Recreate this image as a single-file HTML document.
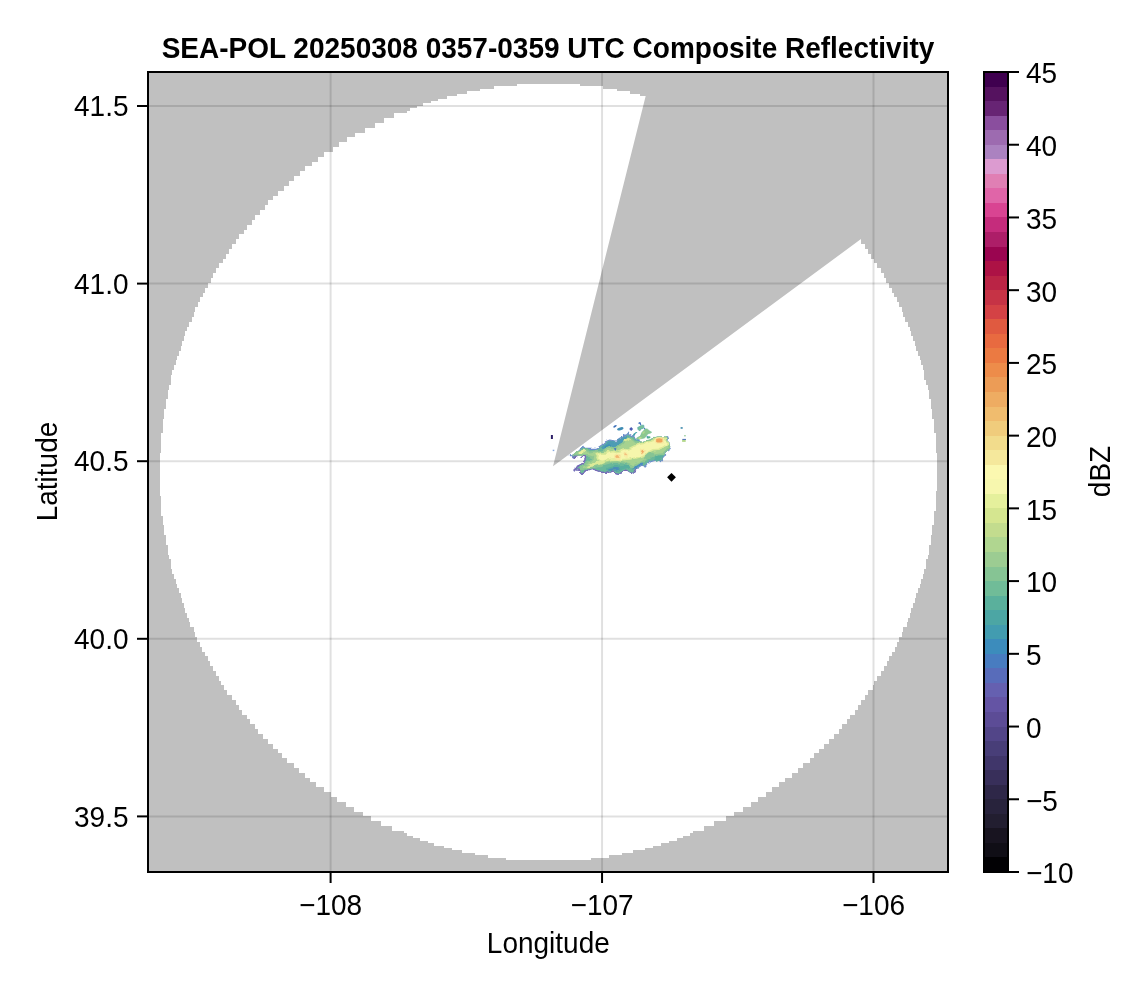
<!DOCTYPE html>
<html><head><meta charset="utf-8"><title>SEA-POL Composite Reflectivity</title>
<style>
html,body{margin:0;padding:0;background:#fff;}
body{width:1146px;height:990px;overflow:hidden;}
svg{display:block;font-family:"Liberation Sans",Arial,Helvetica,sans-serif;font-size:28px;fill:#000;}
</style></head><body>
<svg width="1146" height="990" viewBox="0 0 1146 990">
<defs>
<clipPath id="ax"><rect x="148" y="72" width="800" height="800"/></clipPath>
<filter id="bl" x="-10%" y="-10%" width="120%" height="120%" color-interpolation-filters="sRGB"><feTurbulence type="fractalNoise" baseFrequency="0.17" numOctaves="1" seed="3" result="n"/><feDisplacementMap in="SourceGraphic" in2="n" scale="6" xChannelSelector="R" yChannelSelector="G" result="d"/><feGaussianBlur in="d" stdDeviation="0.55"/></filter>
<filter id="bl2" x="-20%" y="-20%" width="140%" height="140%" color-interpolation-filters="sRGB"><feGaussianBlur stdDeviation="0.5"/></filter>
</defs>
<rect x="0" y="0" width="1146" height="990" fill="#fff"/>
<g clip-path="url(#ax)">
<rect x="148" y="72" width="800" height="800" fill="#c0c0c0"/>
<path fill="#fff" shape-rendering="crispEdges" d="M516.9 84.00H579.9V86.47H516.9ZM494.2 86.42H602.6V88.90H494.2ZM479.7 88.85H617.1V91.32H479.7ZM466.7 91.28H630.0V93.75H466.7ZM457.0 93.70H639.7V96.17H457.0ZM447.3 96.12H649.5V98.60H447.3ZM437.6 98.55H657.5V101.02H437.6ZM431.2 100.97H665.6V103.45H431.2ZM423.1 103.40H673.7V105.88H423.1ZM416.6 105.83H680.2V108.30H416.6ZM410.1 108.25H686.6V110.72H410.1ZM406.9 110.67H689.9V113.15H406.9ZM394.0 113.10H701.2V115.57H394.0ZM394.0 115.53H701.2V118.00H394.0ZM384.3 117.95H712.5V120.42H384.3ZM384.3 120.38H712.5V122.85H384.3ZM374.6 122.80H722.2V125.27H374.6ZM374.6 125.22H722.2V127.70H374.6ZM364.9 127.65H731.9V130.13H364.9ZM364.9 130.07H731.9V132.55H364.9ZM355.2 132.50H740.0V134.98H355.2ZM355.2 134.93H740.0V137.40H355.2ZM347.1 137.35H749.7V139.83H347.1ZM347.1 139.78H749.7V142.25H347.1ZM339.0 142.20H756.2V144.68H339.0ZM339.0 144.62H756.2V147.10H339.0ZM332.5 147.05H764.3V149.53H332.5ZM332.5 149.47H764.3V151.95H332.5ZM324.4 151.90H770.7V154.38H324.4ZM324.4 154.32H770.7V156.80H324.4ZM318.0 156.75H778.8V159.23H318.0ZM318.0 159.18H778.8V161.65H318.0ZM311.5 161.60H785.3V164.08H311.5ZM311.5 164.02H785.3V166.50H311.5ZM305.0 166.45H790.1V168.93H305.0ZM305.0 168.88H790.1V171.35H305.0ZM300.2 171.30H796.6V173.78H300.2ZM300.2 173.72H796.6V176.20H300.2ZM293.7 176.15H803.1V178.62H293.7ZM293.7 178.57H803.1V181.05H293.7ZM288.9 181.00H807.9V183.48H288.9ZM288.9 183.43H807.9V185.90H288.9ZM284.0 185.85H812.8V188.33H284.0ZM284.0 188.27H812.8V190.75H284.0ZM277.5 190.70H817.6V193.18H277.5ZM277.5 193.12H817.6V195.60H277.5ZM272.7 195.55H824.1V198.03H272.7ZM272.7 197.97H824.1V200.45H272.7ZM267.8 200.40H827.3V202.88H267.8ZM267.8 202.82H827.3V205.30H267.8ZM264.6 205.25H832.2V207.73H264.6ZM264.6 207.68H832.2V210.15H264.6ZM259.8 210.10H837.0V212.58H259.8ZM259.8 212.52H837.0V215.00H259.8ZM254.9 214.95H841.9V217.43H254.9ZM254.9 217.38H841.9V219.85H254.9ZM251.7 219.80H845.1V222.28H251.7ZM251.7 222.22H845.1V224.70H251.7ZM246.8 224.65H850.0V227.12H246.8ZM246.8 227.07H850.0V229.55H246.8ZM243.6 229.50H853.2V231.98H243.6ZM243.6 231.92H853.2V234.40H243.6ZM238.7 234.35H858.0V236.83H238.7ZM238.7 236.77H858.0V239.25H238.7ZM235.5 239.20H861.3V241.68H235.5ZM235.5 241.62H861.3V244.10H235.5ZM232.3 244.05H864.5V246.53H232.3ZM232.3 246.47H864.5V248.95H232.3ZM229.0 248.90H867.7V251.38H229.0ZM229.0 251.32H867.7V253.80H229.0ZM225.8 253.75H871.0V256.23H225.8ZM225.8 256.17H871.0V258.65H225.8ZM222.6 258.60H874.2V261.08H222.6ZM222.6 261.02H874.2V263.50H222.6ZM219.3 263.45H877.4V265.93H219.3ZM219.3 265.88H877.4V268.35H219.3ZM216.1 268.30H880.7V270.77H216.1ZM216.1 270.73H880.7V273.20H216.1ZM212.9 273.15H883.9V275.62H212.9ZM212.9 275.57H883.9V278.05H212.9ZM211.2 278.00H885.5V280.48H211.2ZM211.2 280.42H885.5V282.90H211.2ZM208.0 282.85H888.8V285.33H208.0ZM208.0 285.27H888.8V287.75H208.0ZM204.8 287.70H892.0V290.18H204.8ZM204.8 290.12H892.0V292.60H204.8ZM203.2 292.55H893.6V295.02H203.2ZM203.2 294.98H893.6V297.45H203.2ZM199.9 297.40H896.9V299.88H199.9ZM199.9 299.82H896.9V302.30H199.9ZM198.3 302.25H898.5V304.73H198.3ZM198.3 304.67H898.5V307.15H198.3ZM195.1 307.10H901.7V309.58H195.1ZM195.1 309.52H901.7V312.00H195.1ZM193.5 311.95H903.3V314.43H193.5ZM193.5 314.38H903.3V316.85H193.5ZM191.8 316.80H904.9V319.27H191.8ZM191.8 319.23H904.9V321.70H191.8ZM188.6 321.65H908.2V324.12H188.6ZM188.6 324.07H908.2V326.55H188.6ZM187.0 326.50H909.8V328.98H187.0ZM187.0 328.92H909.8V331.40H187.0ZM185.4 331.35H911.4V333.83H185.4ZM185.4 333.77H911.4V336.25H185.4ZM183.8 336.20H913.0V338.68H183.8ZM183.8 338.62H913.0V341.10H183.8ZM182.1 341.05H914.6V343.52H182.1ZM182.1 343.47H914.6V345.95H182.1ZM180.5 345.90H916.3V348.38H180.5ZM180.5 348.32H916.3V350.80H180.5ZM178.9 350.75H917.9V353.23H178.9ZM178.9 353.17H917.9V355.65H178.9ZM177.3 355.60H919.5V358.07H177.3ZM177.3 358.02H919.5V360.50H177.3ZM175.7 360.45H921.1V362.93H175.7ZM175.7 362.88H921.1V365.35H175.7ZM174.1 365.30H922.7V367.77H174.1ZM174.1 367.72H922.7V370.20H174.1ZM172.4 370.15H924.3V372.62H172.4ZM172.4 372.57H924.3V375.05H172.4ZM170.8 375.00H924.3V377.48H170.8ZM170.8 377.42H924.3V379.90H170.8ZM170.8 379.85H926.0V382.32H170.8ZM170.8 382.27H926.0V384.75H170.8ZM169.2 384.70H927.6V387.18H169.2ZM169.2 387.12H927.6V389.60H169.2ZM167.6 389.55H929.2V392.02H167.6ZM167.6 391.97H929.2V394.45H167.6ZM167.6 394.40H929.2V396.88H167.6ZM167.6 396.82H929.2V399.30H167.6ZM166.0 399.25H930.8V401.73H166.0ZM166.0 401.67H930.8V404.15H166.0ZM166.0 404.10H930.8V406.57H166.0ZM166.0 406.52H930.8V409.00H166.0ZM164.4 408.95H932.4V411.43H164.4ZM164.4 411.38H932.4V413.85H164.4ZM164.4 413.80H932.4V416.27H164.4ZM164.4 416.22H932.4V418.70H164.4ZM162.7 418.65H934.0V421.12H162.7ZM162.7 421.07H934.0V423.55H162.7ZM162.7 423.50H934.0V425.98H162.7ZM162.7 425.92H934.0V428.40H162.7ZM162.7 428.35H934.0V430.82H162.7ZM162.7 430.77H934.0V433.25H162.7ZM161.1 433.20H935.7V435.68H161.1ZM161.1 435.62H935.7V438.10H161.1ZM161.1 438.05H935.7V440.52H161.1ZM161.1 440.47H935.7V442.95H161.1ZM161.1 442.90H935.7V445.38H161.1ZM161.1 445.32H935.7V447.80H161.1ZM161.1 447.75H935.7V450.23H161.1ZM161.1 450.17H935.7V452.65H161.1ZM159.5 452.60H937.3V455.07H159.5ZM159.5 455.02H937.3V457.50H159.5ZM159.5 457.45H937.3V459.93H159.5ZM159.5 459.88H937.3V462.35H159.5ZM159.5 462.30H937.3V464.77H159.5ZM159.5 464.72H937.3V467.20H159.5ZM159.5 467.15H937.3V469.62H159.5ZM159.5 469.57H937.3V472.05H159.5ZM159.5 472.00H937.3V474.48H159.5ZM159.5 474.42H937.3V476.90H159.5ZM159.5 476.85H937.3V479.32H159.5ZM159.5 479.27H937.3V481.75H159.5ZM159.5 481.70H937.3V484.18H159.5ZM159.5 484.12H937.3V486.60H159.5ZM159.5 486.55H937.3V489.02H159.5ZM159.5 488.97H937.3V491.45H159.5ZM159.5 491.40H935.7V493.88H159.5ZM159.5 493.82H935.7V496.30H159.5ZM161.1 496.25H935.7V498.72H161.1ZM161.1 498.67H935.7V501.15H161.1ZM161.1 501.10H935.7V503.57H161.1ZM161.1 503.52H935.7V506.00H161.1ZM161.1 505.95H935.7V508.43H161.1ZM161.1 508.37H935.7V510.85H161.1ZM161.1 510.80H934.0V513.27H161.1ZM161.1 513.22H934.0V515.70H161.1ZM162.7 515.65H934.0V518.12H162.7ZM162.7 518.08H934.0V520.55H162.7ZM162.7 520.50H934.0V522.97H162.7ZM162.7 522.92H934.0V525.40H162.7ZM164.4 525.35H932.4V527.82H164.4ZM164.4 527.77H932.4V530.25H164.4ZM164.4 530.20H932.4V532.67H164.4ZM164.4 532.62H932.4V535.10H164.4ZM166.0 535.05H930.8V537.52H166.0ZM166.0 537.47H930.8V539.95H166.0ZM166.0 539.90H930.8V542.37H166.0ZM166.0 542.33H930.8V544.80H166.0ZM167.6 544.75H929.2V547.22H167.6ZM167.6 547.17H929.2V549.65H167.6ZM167.6 549.60H929.2V552.07H167.6ZM167.6 552.02H929.2V554.50H167.6ZM169.2 554.45H927.6V556.92H169.2ZM169.2 556.88H927.6V559.35H169.2ZM170.8 559.30H926.0V561.77H170.8ZM170.8 561.72H926.0V564.20H170.8ZM170.8 564.15H926.0V566.62H170.8ZM170.8 566.58H926.0V569.05H170.8ZM172.4 569.00H924.3V571.47H172.4ZM172.4 571.42H924.3V573.90H172.4ZM174.1 573.85H922.7V576.32H174.1ZM174.1 576.27H922.7V578.75H174.1ZM175.7 578.70H921.1V581.17H175.7ZM175.7 581.12H921.1V583.60H175.7ZM177.3 583.55H919.5V586.02H177.3ZM177.3 585.97H919.5V588.45H177.3ZM178.9 588.40H917.9V590.87H178.9ZM178.9 590.83H917.9V593.30H178.9ZM180.5 593.25H916.3V595.72H180.5ZM180.5 595.67H916.3V598.15H180.5ZM182.1 598.10H914.6V600.57H182.1ZM182.1 600.52H914.6V603.00H182.1ZM183.8 602.95H913.0V605.42H183.8ZM183.8 605.38H913.0V607.85H183.8ZM185.4 607.80H911.4V610.27H185.4ZM185.4 610.22H911.4V612.70H185.4ZM187.0 612.65H909.8V615.12H187.0ZM187.0 615.07H909.8V617.55H187.0ZM188.6 617.50H908.2V619.97H188.6ZM188.6 619.92H908.2V622.40H188.6ZM190.2 622.35H906.6V624.82H190.2ZM190.2 624.77H906.6V627.25H190.2ZM193.5 627.20H903.3V629.67H193.5ZM193.5 629.62H903.3V632.10H193.5ZM195.1 632.05H901.7V634.52H195.1ZM195.1 634.47H901.7V636.95H195.1ZM196.7 636.90H898.5V639.37H196.7ZM196.7 639.32H898.5V641.80H196.7ZM199.9 641.75H896.9V644.22H199.9ZM199.9 644.17H896.9V646.65H199.9ZM201.5 646.60H895.2V649.07H201.5ZM201.5 649.02H895.2V651.50H201.5ZM204.8 651.45H892.0V653.92H204.8ZM204.8 653.88H892.0V656.35H204.8ZM208.0 656.30H888.8V658.77H208.0ZM208.0 658.72H888.8V661.20H208.0ZM209.6 661.15H887.1V663.62H209.6ZM209.6 663.57H887.1V666.05H209.6ZM212.9 666.00H883.9V668.47H212.9ZM212.9 668.42H883.9V670.90H212.9ZM216.1 670.85H880.7V673.32H216.1ZM216.1 673.27H880.7V675.75H216.1ZM219.3 675.70H877.4V678.17H219.3ZM219.3 678.12H877.4V680.60H219.3ZM220.9 680.55H874.2V683.02H220.9ZM220.9 682.97H874.2V685.45H220.9ZM224.2 685.40H872.6V687.87H224.2ZM224.2 687.82H872.6V690.30H224.2ZM227.4 690.25H867.7V692.72H227.4ZM227.4 692.67H867.7V695.15H227.4ZM232.3 695.10H864.5V697.57H232.3ZM232.3 697.52H864.5V700.00H232.3ZM235.5 699.95H861.3V702.42H235.5ZM235.5 702.38H861.3V704.85H235.5ZM238.7 704.80H858.0V707.27H238.7ZM238.7 707.22H858.0V709.70H238.7ZM242.0 709.65H854.8V712.12H242.0ZM242.0 712.07H854.8V714.55H242.0ZM246.8 714.50H850.0V716.97H246.8ZM246.8 716.92H850.0V719.40H246.8ZM250.1 719.35H846.7V721.82H250.1ZM250.1 721.77H846.7V724.25H250.1ZM254.9 724.20H841.9V726.67H254.9ZM254.9 726.62H841.9V729.10H254.9ZM258.1 729.05H838.6V731.52H258.1ZM258.1 731.47H838.6V733.95H258.1ZM263.0 733.90H833.8V736.37H263.0ZM263.0 736.32H833.8V738.80H263.0ZM267.8 738.75H828.9V741.22H267.8ZM267.8 741.17H828.9V743.65H267.8ZM272.7 743.60H824.1V746.07H272.7ZM272.7 746.02H824.1V748.50H272.7ZM277.5 748.45H819.2V750.92H277.5ZM277.5 750.88H819.2V753.35H277.5ZM282.4 753.30H814.4V755.77H282.4ZM282.4 755.72H814.4V758.20H282.4ZM287.2 758.15H809.5V760.62H287.2ZM287.2 760.57H809.5V763.05H287.2ZM293.7 763.00H803.1V765.47H293.7ZM293.7 765.42H803.1V767.90H293.7ZM298.6 767.85H798.2V770.32H298.6ZM298.6 770.27H798.2V772.75H298.6ZM305.0 772.70H791.7V775.17H305.0ZM305.0 775.12H791.7V777.60H305.0ZM309.9 777.55H785.3V780.02H309.9ZM309.9 779.97H785.3V782.45H309.9ZM316.3 782.40H778.8V784.87H316.3ZM316.3 784.82H778.8V787.30H316.3ZM324.4 787.25H772.3V789.72H324.4ZM324.4 789.67H772.3V792.15H324.4ZM330.9 792.10H765.9V794.57H330.9ZM330.9 794.52H765.9V797.00H330.9ZM337.4 796.95H757.8V799.42H337.4ZM337.4 799.38H757.8V801.85H337.4ZM345.5 801.80H751.3V804.27H345.5ZM345.5 804.22H751.3V806.70H345.5ZM353.5 806.65H743.2V809.12H353.5ZM353.5 809.07H743.2V811.55H353.5ZM363.2 811.50H733.5V813.97H363.2ZM363.2 813.92H733.5V816.40H363.2ZM371.3 816.35H725.5V818.82H371.3ZM371.3 818.77H725.5V821.25H371.3ZM381.0 821.20H714.1V823.67H381.0ZM381.0 823.62H714.1V826.10H381.0ZM392.3 826.05H704.4V828.52H392.3ZM392.3 828.47H704.4V830.95H392.3ZM403.7 830.90H693.1V833.37H403.7ZM406.9 833.32H689.9V835.80H406.9ZM413.4 835.75H683.4V838.22H413.4ZM419.8 838.17H676.9V840.65H419.8ZM427.9 840.60H668.9V843.07H427.9ZM434.4 843.02H660.8V845.50H434.4ZM444.1 845.45H652.7V847.92H444.1ZM452.2 847.88H644.6V850.35H452.2ZM461.9 850.30H633.3V852.77H461.9ZM474.8 852.72H622.0V855.20H474.8ZM487.8 855.15H609.0V857.62H487.8ZM505.5 857.57H591.2V860.05H505.5Z"/>
<polygon fill="#c0c0c0" points="553.0,466.2 659.8,39.6 800,40 960,40 960,150 904.4,207.0"/>
<g stroke="#000" stroke-opacity="0.12" stroke-width="2" fill="none">
<line x1="330.60" y1="72" x2="330.60" y2="872"/>
<line x1="602.05" y1="72" x2="602.05" y2="872"/>
<line x1="873.50" y1="72" x2="873.50" y2="872"/>
<line x1="148" y1="106.00" x2="948" y2="106.00"/>
<line x1="148" y1="283.60" x2="948" y2="283.60"/>
<line x1="148" y1="461.20" x2="948" y2="461.20"/>
<line x1="148" y1="638.80" x2="948" y2="638.80"/>
<line x1="148" y1="816.40" x2="948" y2="816.40"/>
</g>
<g id="blob" filter="url(#bl)">
<polygon points="570.2,455.0 574.1,452.6 577.9,450.5 581.8,448.4 582.8,446.3 585.2,448.4 590.1,448.4 595.7,448.4 598.5,447.3 602.0,444.9 605.5,441.8 609.7,440.0 613.9,440.7 616.7,441.1 620.1,439.0 621.3,438.5 623.5,436.3 623.7,433.7 625.1,434.4 627.2,432.2 629.2,435.0 631.8,436.8 632.7,435.5 634.4,437.2 635.7,438.5 637.1,439.8 639.7,441.1 641.4,442.9 643.6,441.6 647.1,440.7 650.6,439.8 655.4,438.3 657.9,438.4 661.4,438.4 666.3,438.4 667.7,436.6 668.4,438.7 667.7,442.2 668.4,445.7 671.2,448.5 668.4,450.6 664.9,453.0 664.6,455.1 662.1,456.9 661.8,460.7 660.0,460.7 657.9,459.0 653.7,460.4 649.5,461.8 646.1,464.6 645.4,467.0 642.6,466.3 638.4,469.1 636.9,469.0 633.4,471.4 629.9,473.5 626.4,471.4 623.6,471.1 620.8,473.2 617.4,473.2 613.9,472.1 611.1,473.2 608.3,471.8 606.2,473.5 603.4,471.4 599.2,471.1 595.0,469.7 591.5,468.6 588.0,469.7 584.2,472.5 581.8,473.5 579.0,470.4 575.1,469.7 575.5,467.2 579.7,465.1 583.8,462.7 586.3,459.9 585.2,457.8 581.1,457.1 579.0,455.7 574.8,457.8 572.0,456.8" fill="#6ab89a" stroke="#6c8ccc" stroke-width="1.1" stroke-linejoin="round"/>
<polyline points="636.9,469.0 633.4,471.4 629.9,473.5 626.4,471.4 623.6,471.1 620.8,473.2 617.4,473.2 613.9,472.1 611.1,473.2 608.3,471.8 606.2,473.5 603.4,471.4 599.2,471.1 595.0,469.7 591.5,468.6 588.0,469.7 584.2,472.5 581.8,473.5 579.0,470.4 575.1,469.7 575.5,467.2 579.7,465.1 583.8,462.7 586.3,459.9 585.2,457.8 581.1,457.1 579.0,455.7 574.8,457.8 572.0,456.8" fill="none" stroke="#7a66b4" stroke-width="1.1" stroke-linejoin="round"/>
<polygon points="601.6,447.4 605.9,443.3 610.8,441.3 616.3,441.9 622.4,438.2 626.1,435.2 628.5,437.0 622.4,442.5 616.3,446.2 609.0,448.6 604.1,450.4" fill="#4c9cb4" stroke="#4c9cb4" stroke-width="0.8"/>
<polygon points="572.3,454.7 579.7,450.4 589.4,451.6 595.5,450.4 601.6,451.6 606.5,448.6 616.3,446.8 622.4,443.7 627.3,438.2 631.0,438.8 634.6,441.9 640.7,442.5 650.5,440.0 657.8,438.2 667.0,438.2 667.6,444.3 670.1,448.0 665.8,451.0 662.7,454.1 655.4,455.3 650.5,457.8 643.2,461.4 638.3,463.9 633.4,466.3 628.5,463.9 623.6,462.6 617.5,461.4 611.4,462.0 605.3,463.9 599.2,466.3 591.9,467.5 584.5,468.8 579.7,469.4 583.3,465.1 589.4,461.4 593.1,457.8 587.0,455.9 579.7,455.9" fill="#a6d290" stroke="#8cc693" stroke-width="2.0" stroke-linejoin="round"/>
<ellipse cx="618.8" cy="467.8" rx="12.83" ry="2.44" fill="#58ae9e" transform="rotate(-8 618.8 467.8)"/>
<ellipse cx="613.9" cy="469.4" rx="6.11" ry="1.22" fill="#4a8cba" transform="rotate(-5 613.9 469.4)"/>
<ellipse cx="638.3" cy="465.7" rx="5.50" ry="1.47" fill="#4a8cc0" transform="rotate(-30 638.3 465.7)"/>
<ellipse cx="657.8" cy="458.0" rx="4.89" ry="1.59" fill="#58b09c" transform="rotate(-25 657.8 458.0)"/>
<ellipse cx="649.3" cy="455.9" rx="5.50" ry="2.69" fill="#86c494" transform="rotate(-20 649.3 455.9)"/>
<ellipse cx="605.3" cy="454.7" rx="4.28" ry="1.47" fill="#80c296" transform="rotate(-20 605.3 454.7)"/>
<ellipse cx="607.8" cy="446.2" rx="3.66" ry="1.22" fill="#3e90b8" transform="rotate(-25 607.8 446.2)"/>
<polygon points="596.2,454.7 601.6,453.1 607.8,453.1 612.6,451.4 617.5,452.6 622.4,450.4 628.5,449.0 633.4,446.5 638.3,444.3 643.2,443.1 650.5,441.3 656.6,439.4 666.4,439.4 667.4,444.3 662.7,447.4 657.8,449.2 653.0,449.8 649.3,451.6 645.6,454.7 640.7,456.5 635.9,457.8 631.0,459.0 626.1,459.2 621.2,459.7 616.3,459.0 611.4,459.2 606.5,460.4 601.6,461.4 598.2,460.9 597.0,458.4 598.0,456.3" fill="#f5f6ac" stroke="#dcea98" stroke-width="1.6" stroke-linejoin="round"/>
<ellipse cx="582.1" cy="452.3" rx="4.28" ry="1.59" fill="#e6ee9e" transform="rotate(-25 582.1 452.3)"/>
<ellipse cx="595.5" cy="464.1" rx="9.77" ry="1.59" fill="#dcea98" transform="rotate(-15 595.5 464.1)"/>
<ellipse cx="626.7" cy="440.0" rx="3.42" ry="1.47" fill="#d8e894" transform="rotate(-20 626.7 440.0)"/>
<ellipse cx="659.3" cy="440.9" rx="4.64" ry="2.81" fill="#f7e8a0" transform="rotate(0 659.3 440.9)"/>
<ellipse cx="659.3" cy="440.9" rx="3.30" ry="1.71" fill="#f0a45c" transform="rotate(0 659.3 440.9)"/>
<ellipse cx="642.8" cy="451.3" rx="2.81" ry="2.44" fill="#f7e8a0" transform="rotate(0 642.8 451.3)"/>
<ellipse cx="642.8" cy="451.3" rx="1.47" ry="1.34" fill="#f0ac66" transform="rotate(0 642.8 451.3)"/>
<ellipse cx="625.7" cy="454.7" rx="2.69" ry="2.93" fill="#f7e8a0" transform="rotate(0 625.7 454.7)"/>
<ellipse cx="625.7" cy="454.7" rx="1.34" ry="1.83" fill="#f2c07c" transform="rotate(0 625.7 454.7)"/>
<ellipse cx="618.1" cy="456.5" rx="3.05" ry="2.69" fill="#f7e8a0" transform="rotate(0 618.1 456.5)"/>
<ellipse cx="618.1" cy="456.5" rx="1.71" ry="1.59" fill="#f2b670" transform="rotate(0 618.1 456.5)"/>
<ellipse cx="615.1" cy="449.2" rx="1.47" ry="1.22" fill="#4a78c0" transform="rotate(0 615.1 449.2)"/>
</g>
<g filter="url(#bl2)">
<ellipse cx="615.0" cy="426.3" rx="1.96" ry="0.96" fill="#3e70b8" transform="rotate(-32 615.0 426.3)"/>
<ellipse cx="620.3" cy="428.8" rx="3.27" ry="1.40" fill="#3e8cb4" transform="rotate(-15 620.3 428.8)"/>
<polygon points="629.2,428.9 631.2,426.9 633.1,428.9 631.2,430.9" fill="#4c5cb4"/>
<polygon points="637.9,423.2 639.5,422.1 640.8,422.6 641.2,425.0 640.3,425.4 639.7,423.9" fill="#4a74c0"/>
<polygon points="637.7,427.4 640.1,426.3 641.4,425.2 643.8,425.2 644.0,427.4 643.2,428.5 641.0,428.7 640.5,430.2 639.2,430.7 637.9,429.3" fill="#78c098" stroke="#48a0a8" stroke-width="0.6"/>
<polygon points="636.2,438.5 637.9,437.2 640.1,436.3 641.0,434.6 641.8,432.4 643.6,430.7 644.9,428.9 647.1,428.9 649.3,430.7 651.7,432.2 650.6,433.1 648.4,433.7 647.1,434.6 646.2,436.3 644.5,437.9 642.3,438.5 640.1,438.9 638.8,439.8 637.1,439.6" fill="#8cc890" stroke="#70bc98" stroke-width="0.6"/>
<ellipse cx="640.1" cy="438.1" rx="1.75" ry="0.79" fill="#c8e090" transform="rotate(-15 640.1 438.1)"/>
<ellipse cx="643.6" cy="432.6" rx="1.53" ry="0.96" fill="#b0d690" transform="rotate(-40 643.6 432.6)"/>
<ellipse cx="644.5" cy="428.5" rx="0.61" ry="0.79" fill="#4a78c0" transform="rotate(0 644.5 428.5)"/>
<ellipse cx="648.6" cy="437.4" rx="1.96" ry="1.13" fill="#50b090" transform="rotate(-10 648.6 437.4)"/>
<ellipse cx="647.2" cy="436.5" rx="0.61" ry="0.70" fill="#4a80c0" transform="rotate(0 647.2 436.5)"/>
<polygon points="632.9,435.7 633.3,433.9 636.0,432.0 637.5,432.2 635.5,433.8 634.7,435.7" fill="#3ea0a8"/>
<ellipse cx="637.9" cy="440.0" rx="1.09" ry="0.79" fill="#58a8c0" transform="rotate(0 637.9 440.0)"/>
<rect x="680.6" y="427.1" width="2.1" height="1.7" fill="#4890b0"/>
<rect x="684.2" y="435.1" width="1.5" height="1.3" fill="#8cc890"/>
<rect x="682.1" y="439.4" width="3.6" height="2.5" fill="#b4d88c"/>
<rect x="682.4" y="438.9" width="3.6" height="1" fill="#4a6cb8"/>
</g>
<rect x="550.9" y="435" width="2" height="4" fill="#2e2068"/>
<rect x="552.7" y="449.7" width="1.6" height="1.4" fill="#88a8e0"/>
<polygon points="667.1,477.3 671.5,472.9 675.9,477.3 671.5,481.7" fill="#000"/>
</g>
<rect x="148" y="72" width="800" height="800" fill="none" stroke="#000" stroke-width="2"/>
<g shape-rendering="crispEdges">
<rect x="984" y="72.00" width="24" height="15.05" fill="#3f004f"/>
<rect x="984" y="86.55" width="24" height="15.05" fill="#55125f"/>
<rect x="984" y="101.09" width="24" height="15.05" fill="#672474"/>
<rect x="984" y="115.64" width="24" height="15.05" fill="#8a4e9e"/>
<rect x="984" y="130.18" width="24" height="15.05" fill="#9d6bb0"/>
<rect x="984" y="144.73" width="24" height="15.05" fill="#ab82c0"/>
<rect x="984" y="159.27" width="24" height="15.05" fill="#dc9bd0"/>
<rect x="984" y="173.82" width="24" height="15.05" fill="#e07fb4"/>
<rect x="984" y="188.36" width="24" height="15.05" fill="#e065a8"/>
<rect x="984" y="202.91" width="24" height="15.05" fill="#d94492"/>
<rect x="984" y="217.45" width="24" height="15.05" fill="#c52c7c"/>
<rect x="984" y="232.00" width="24" height="15.05" fill="#ad1e68"/>
<rect x="984" y="246.55" width="24" height="15.05" fill="#9a0550"/>
<rect x="984" y="261.09" width="24" height="15.05" fill="#ad1245"/>
<rect x="984" y="275.64" width="24" height="15.05" fill="#ba2445"/>
<rect x="984" y="290.18" width="24" height="15.05" fill="#c63345"/>
<rect x="984" y="304.73" width="24" height="15.05" fill="#d44245"/>
<rect x="984" y="319.27" width="24" height="15.05" fill="#e05a40"/>
<rect x="984" y="333.82" width="24" height="15.05" fill="#e86a40"/>
<rect x="984" y="348.36" width="24" height="15.05" fill="#eb7a42"/>
<rect x="984" y="362.91" width="24" height="15.05" fill="#ed8c4a"/>
<rect x="984" y="377.45" width="24" height="15.05" fill="#ec9c56"/>
<rect x="984" y="392.00" width="24" height="15.05" fill="#eeac62"/>
<rect x="984" y="406.55" width="24" height="15.05" fill="#f0bc6e"/>
<rect x="984" y="421.09" width="24" height="15.05" fill="#f0cc7c"/>
<rect x="984" y="435.64" width="24" height="15.05" fill="#f2dc8c"/>
<rect x="984" y="450.18" width="24" height="15.05" fill="#f5e89c"/>
<rect x="984" y="464.73" width="24" height="15.05" fill="#fbf8b0"/>
<rect x="984" y="479.27" width="24" height="15.05" fill="#f7f7ae"/>
<rect x="984" y="493.82" width="24" height="15.05" fill="#e5f09c"/>
<rect x="984" y="508.36" width="24" height="15.05" fill="#d5e690"/>
<rect x="984" y="522.91" width="24" height="15.05" fill="#c3dc8e"/>
<rect x="984" y="537.45" width="24" height="15.05" fill="#b0d690"/>
<rect x="984" y="552.00" width="24" height="15.05" fill="#9ccc92"/>
<rect x="984" y="566.55" width="24" height="15.05" fill="#86c494"/>
<rect x="984" y="581.09" width="24" height="15.05" fill="#70bc98"/>
<rect x="984" y="595.64" width="24" height="15.05" fill="#5ab09c"/>
<rect x="984" y="610.18" width="24" height="15.05" fill="#4ca6a4"/>
<rect x="984" y="624.73" width="24" height="15.05" fill="#429cb0"/>
<rect x="984" y="639.27" width="24" height="15.05" fill="#3c8cbc"/>
<rect x="984" y="653.82" width="24" height="15.05" fill="#487cc0"/>
<rect x="984" y="668.36" width="24" height="15.05" fill="#586cba"/>
<rect x="984" y="682.91" width="24" height="15.05" fill="#6560b0"/>
<rect x="984" y="697.45" width="24" height="15.05" fill="#6454a4"/>
<rect x="984" y="712.00" width="24" height="15.05" fill="#5c4c96"/>
<rect x="984" y="726.55" width="24" height="15.05" fill="#524588"/>
<rect x="984" y="741.09" width="24" height="15.05" fill="#483e78"/>
<rect x="984" y="755.64" width="24" height="15.05" fill="#40366a"/>
<rect x="984" y="770.18" width="24" height="15.05" fill="#382f5a"/>
<rect x="984" y="784.73" width="24" height="15.05" fill="#2e2748"/>
<rect x="984" y="799.27" width="24" height="15.05" fill="#28233c"/>
<rect x="984" y="813.82" width="24" height="15.05" fill="#221e30"/>
<rect x="984" y="828.36" width="24" height="15.05" fill="#181420"/>
<rect x="984" y="842.91" width="24" height="15.05" fill="#100e16"/>
<rect x="984" y="857.45" width="24" height="15.05" fill="#020104"/>
</g>
<rect x="984" y="72" width="24" height="800" fill="none" stroke="#000" stroke-width="2"/>
<g stroke="#000" stroke-width="2" fill="none">
<line x1="330.60" y1="873" x2="330.60" y2="883"/>
<line x1="602.05" y1="873" x2="602.05" y2="883"/>
<line x1="873.50" y1="873" x2="873.50" y2="883"/>
<line x1="137" y1="106.00" x2="147" y2="106.00"/>
<line x1="137" y1="283.60" x2="147" y2="283.60"/>
<line x1="137" y1="461.20" x2="147" y2="461.20"/>
<line x1="137" y1="638.80" x2="147" y2="638.80"/>
<line x1="137" y1="816.40" x2="147" y2="816.40"/>
<line x1="1009" y1="872.00" x2="1019" y2="872.00"/>
<line x1="1009" y1="799.27" x2="1019" y2="799.27"/>
<line x1="1009" y1="726.55" x2="1019" y2="726.55"/>
<line x1="1009" y1="653.82" x2="1019" y2="653.82"/>
<line x1="1009" y1="581.09" x2="1019" y2="581.09"/>
<line x1="1009" y1="508.36" x2="1019" y2="508.36"/>
<line x1="1009" y1="435.64" x2="1019" y2="435.64"/>
<line x1="1009" y1="362.91" x2="1019" y2="362.91"/>
<line x1="1009" y1="290.18" x2="1019" y2="290.18"/>
<line x1="1009" y1="217.45" x2="1019" y2="217.45"/>
<line x1="1009" y1="144.73" x2="1019" y2="144.73"/>
<line x1="1009" y1="72.00" x2="1019" y2="72.00"/>
</g>
<g>
<text transform="translate(330.60,915.3) scale(1,1.045)" text-anchor="middle">−108</text>
<text transform="translate(602.05,915.3) scale(1,1.045)" text-anchor="middle">−107</text>
<text transform="translate(873.50,915.3) scale(1,1.045)" text-anchor="middle">−106</text>
<text transform="translate(128.5,116.20) scale(1,1.045)" text-anchor="end">41.5</text>
<text transform="translate(128.5,293.80) scale(1,1.045)" text-anchor="end">41.0</text>
<text transform="translate(128.5,471.40) scale(1,1.045)" text-anchor="end">40.5</text>
<text transform="translate(128.5,649.00) scale(1,1.045)" text-anchor="end">40.0</text>
<text transform="translate(128.5,826.60) scale(1,1.045)" text-anchor="end">39.5</text>
<text transform="translate(1026,883.40) scale(1,1.045)">−10</text>
<text transform="translate(1026,810.67) scale(1,1.045)">−5</text>
<text transform="translate(1026,737.95) scale(1,1.045)">0</text>
<text transform="translate(1026,665.22) scale(1,1.045)">5</text>
<text transform="translate(1026,592.49) scale(1,1.045)">10</text>
<text transform="translate(1026,519.76) scale(1,1.045)">15</text>
<text transform="translate(1026,447.04) scale(1,1.045)">20</text>
<text transform="translate(1026,374.31) scale(1,1.045)">25</text>
<text transform="translate(1026,301.58) scale(1,1.045)">30</text>
<text transform="translate(1026,228.85) scale(1,1.045)">35</text>
<text transform="translate(1026,156.13) scale(1,1.045)">40</text>
<text transform="translate(1026,83.40) scale(1,1.045)">45</text>
</g>
<text transform="translate(548,58.3) scale(1,1.045)" text-anchor="middle" font-weight="bold" id="title">SEA-POL 20250308 0357-0359 UTC Composite Reflectivity</text>
<text transform="translate(548.3,953) scale(1,1.045)" text-anchor="middle" id="xl">Longitude</text>
<text transform="translate(57,471.5) rotate(-90) scale(1,1.045)" text-anchor="middle" id="yl">Latitude</text>
<text transform="translate(1110,471.5) rotate(-90) scale(1,1.045)" text-anchor="middle" id="cl">dBZ</text>
</svg>
</body></html>
